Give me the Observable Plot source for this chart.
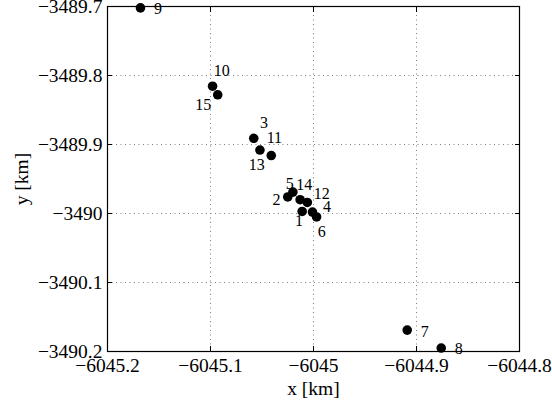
<!DOCTYPE html>
<html>
<head>
<meta charset="utf-8">
<script src="https://cdn.jsdelivr.net/npm/d3@7"></script>
<script src="https://cdn.jsdelivr.net/npm/@observablehq/plot@0.6"></script>
<style>
  html, body { margin: 0; padding: 0; background: #fff; }
  #chart svg { display: block; }
</style>
</head>
<body>
<div id="chart"></div>
<script>
// Point ids
const ids = [1, 2, 3, 4, 5, 6, 7, 8, 9, 10, 11, 12, 13, 14, 15];
// Point positions (km)
const xs = [-6045.011, -6045.025, -6045.058, -6045.001, -6045.020, -6044.997, -6044.909, -6044.876,
            -6045.168, -6045.098, -6045.041, -6045.006, -6045.052, -6045.013, -6045.093];
const ys = [-3489.997, -3489.976, -3489.891, -3489.998, -3489.969, -3490.005, -3490.169, -3490.195,
            -3489.702, -3489.8155, -3489.916, -3489.984, -3489.908, -3489.980, -3489.828];
// Label anchor positions (km)
const labelXs = [-6045.014, -6045.036, -6045.048, -6044.987, -6045.023, -6044.992, -6044.892, -6044.859,
                 -6045.151, -6045.089, -6045.038, -6044.992, -6045.055, -6045.009, -6045.107];
const labelYs = [-3490.010, -3489.980, -3489.869, -3489.991, -3489.957, -3490.027, -3490.171, -3490.196,
                 -3489.703, -3489.793, -3489.891, -3489.971, -3489.929, -3489.959, -3489.842];
// Ticks
const xTicks = [-6045.2, -6045.1, -6045.0, -6044.9, -6044.8];
const xTickLabels = ["\u22126045.2", "\u22126045.1", "\u22126045", "\u22126044.9", "\u22126044.8"];
const yTicks = [-3489.7, -3489.8, -3489.9, -3490.0, -3490.1, -3490.2];
const yTickLabels = ["\u22123489.7", "\u22123489.8", "\u22123489.9", "\u22123490", "\u22123490.1", "\u22123490.2"];

const points = ids.map((id, i) => ({id, x: xs[i], y: ys[i], lx: labelXs[i], ly: labelYs[i]}));
const xLab = new Map(xTicks.map((t, i) => [t, xTickLabels[i]]));
const yLab = new Map(yTicks.map((t, i) => [t, yTickLabels[i]]));

const font = "'Liberation Serif', 'Times New Roman', serif";

const chart = Plot.plot({
  width: 552,
  height: 400,
  marginLeft: 107,
  marginRight: 33,
  marginTop: 6,
  marginBottom: 49,
  style: {fontFamily: font, fontSize: "19px", color: "black", background: "white"},
  x: {domain: [-6045.2, -6044.8]},
  y: {domain: [-3490.2, -3489.7]},
  marks: [
    Plot.gridX(xTicks, {stroke: "#7f7f7f", strokeOpacity: 1, strokeDasharray: "1,3.5"}),
    Plot.gridY(yTicks, {stroke: "#7f7f7f", strokeOpacity: 1, strokeDasharray: "1,3.5"}),
    Plot.axisX(xTicks, {anchor: "bottom", tickSize: 0, tickPadding: 7, tickFormat: d => xLab.get(d),
      fontSize: 19.5, label: "x [km]", labelAnchor: "center", labelArrow: "none", labelOffset: 43}),
    Plot.axisY(yTicks, {anchor: "left", tickSize: 0, tickPadding: 5, tickFormat: d => yLab.get(d),
      fontSize: 19.5, label: "y [km]", labelAnchor: "center", labelArrow: "none", labelOffset: 93}),
    Plot.axisX(xTicks, {anchor: "bottom", tickSize: -5, text: null, label: null}),
    Plot.axisX(xTicks, {anchor: "top", tickSize: -5, text: null, label: null}),
    Plot.axisY(yTicks, {anchor: "left", tickSize: -5, text: null, label: null}),
    Plot.axisY(yTicks, {anchor: "right", tickSize: -5, text: null, label: null}),
    Plot.frame({stroke: "black", strokeWidth: 1.2}),
    Plot.dot(points, {x: "x", y: "y", r: 4.8, fill: "black", stroke: "none", clip: false}),
    Plot.text(points, {x: "lx", y: "ly", text: d => String(d.id), fontSize: 16, fill: "black",
      fontFamily: font})
  ]
});
document.getElementById("chart").appendChild(chart);
</script>
</body>
</html>
